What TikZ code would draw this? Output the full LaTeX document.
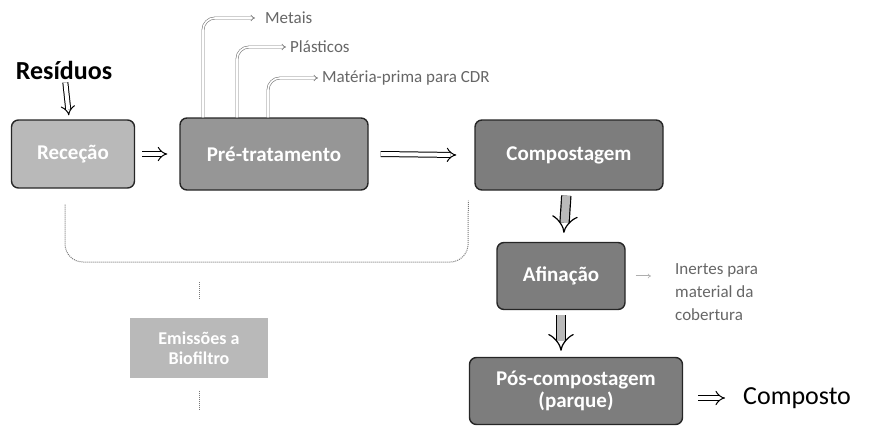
\documentclass[tikz,border=0pt]{standalone}
\usepackage{fontspec}
\setmainfont{Carlito}
\usepackage{tikz}
\usetikzlibrary{arrows.meta, positioning, calc}
\definecolor{boxgray}{RGB}{150,150,150}
\definecolor{boxdark}{RGB}{125,125,125}
\definecolor{boxlight}{RGB}{185,185,185}
\definecolor{lineg}{RGB}{120,120,120}
\tikzset{
  stage/.style={rectangle, draw=black!85, fill=boxgray, text=white,
    align=center, rounded corners=7pt, line width=1.4pt,
    font=\fontsize{21}{23}\selectfont\bfseries},
  hollow/.style={double=white, draw=black, line width=1pt,
    double distance=4pt, -{Implies[scale=1.3]}},
  fatdown/.style={double=boxlight, draw=black, line width=1.2pt,
    double distance=8pt, -{Implies[scale=1.2]}},
  outarrow/.style={double=white, draw=lineg, line width=0.6pt,
    double distance=1.6pt, -{Implies[scale=1.3]}, rounded corners=12pt},
  loopline/.style={draw=lineg, densely dotted, line width=1pt, rounded corners=18pt},
  label/.style={font=\fontsize{17}{20}\selectfont, text=black!60, inner sep=0pt}
}
\begin{document}
\begin{tikzpicture}[x=1pt, y=-1pt]
  \useasboundingbox (0,0) rectangle (871,437);

  % Stages
  \node[stage, fill=boxlight, minimum width=123pt, minimum height=68pt] (rec) at (73,154) {Receção};
  \node[stage, minimum width=188pt, minimum height=72pt] (pre) at (274,154) {Pré-tratamento};
  \node[stage, fill=boxdark, minimum width=188pt, minimum height=70pt] (comp) at (569,155) {Compostagem};
  \node[stage, fill=boxdark, minimum width=128pt, minimum height=67pt] (afin) at (561,276) {Afinação};
  \node[stage, fill=boxdark, minimum width=213pt, minimum height=67pt,
    font=\fontsize{21}{22}\selectfont\bfseries] (pos) at (576,391) {Pós-compostagem\\(parque)};
  \node[stage, draw=none, fill=boxlight, rounded corners=0pt, minimum width=138pt, minimum height=60pt,
    font=\fontsize{18}{20}\selectfont\bfseries] (bio) at (199,348) {Emissões a\\Biofiltro};

  % Inputs and outputs
  \node[font=\fontsize{26}{28}\selectfont\bfseries, inner sep=0pt] (res) at (64,70) {Resíduos};
  \node[font=\fontsize{26}{28}\selectfont, anchor=west, inner sep=0pt] (composto) at (743,398) {Composto};
  \node[label, anchor=west] (metais) at (265,18) {Metais};
  \node[label, anchor=west] (plast) at (290,47) {Plásticos};
  \node[label, anchor=west] (cdr) at (322,78) {Matéria-prima para CDR};
  \node[label, anchor=west, align=left, font=\fontsize{17}{23}\selectfont] (inertes) at (675,292) {Inertes para\\material da\\cobertura};
  \coordinate (loop) at (468,262);

  % Connections
  \draw[hollow, shorten <=3pt, shorten >=4pt] (res) -- (rec);
  \draw[hollow] ([xshift=7pt]rec.east) -- ([xshift=-12pt]pre.west);
  \draw[hollow] ([xshift=12pt]pre.east) -- ([xshift=-18pt]comp.west);
  \draw[fatdown, shorten <=5pt, shorten >=9pt] (comp) -- (afin);
  \draw[fatdown, shorten <=5pt, shorten >=6pt] (afin) -- (afin |- pos.north);
  \draw[hollow, shorten <=15pt, shorten >=18pt] (pos.east |- composto) -- (composto);
  \draw[outarrow, double distance=1pt, draw=lineg!60] ([xshift=10pt]afin.east) -- ([xshift=-24pt]inertes.west |- afin);

  \draw[outarrow] ([xshift=-71pt]pre.north) |- ([xshift=-10pt]metais.west);
  \draw[outarrow] ([xshift=-37pt]pre.north) |- ([xshift=-4pt]plast.west);
  \draw[outarrow] ([xshift=-6pt]pre.north) |- ([xshift=-4pt]cdr.west);

  \draw[loopline, shorten <=16pt] (rec.south -| 65,0) |- (loop) -- ([xshift=-6pt,yshift=-10pt]comp.south west);
  \draw[loopline] ([yshift=35pt]bio.north) -- ([yshift=18pt]bio.north);
  \draw[loopline] ([yshift=-12pt]bio.south) -- ([yshift=-32pt]bio.south);

\end{tikzpicture}
\end{document}
